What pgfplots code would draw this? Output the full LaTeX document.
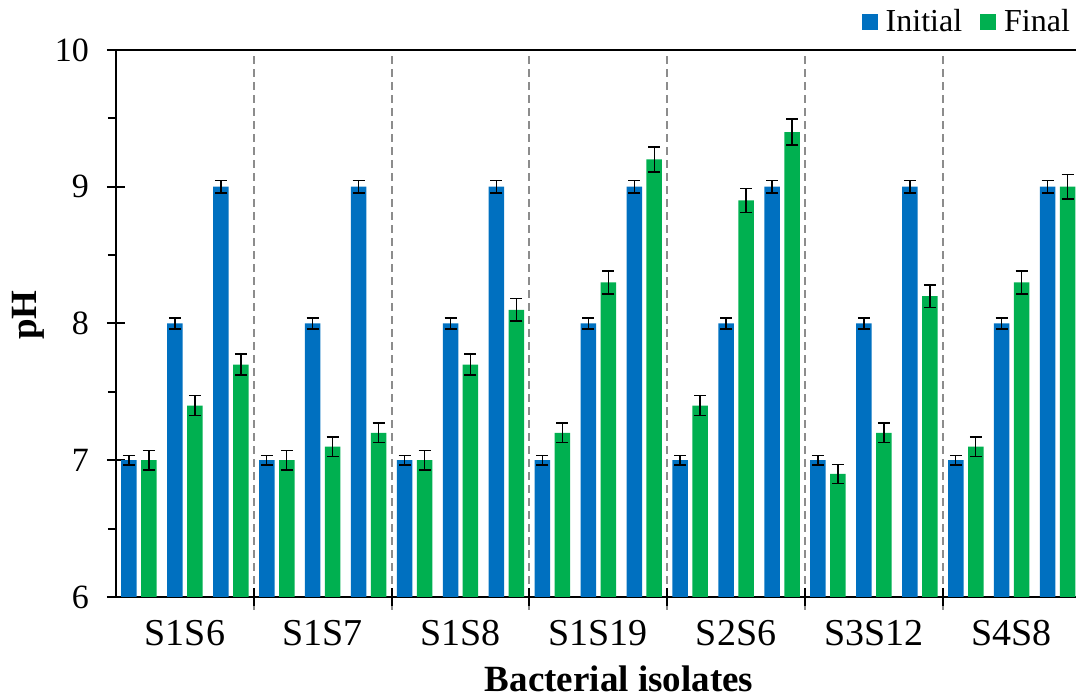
\documentclass[border=0pt]{standalone}
\usepackage{pgfplots}
\pgfplotsset{compat=1.18}
\usepackage{pgfplotstable}
\usepackage{fontspec}
\setmainfont{Liberation Serif}
\definecolor{initblue}{HTML}{0070C0}
\definecolor{finalgreen}{HTML}{00B050}
\definecolor{sepgray}{HTML}{8C8C8C}

% x positions: pair centre -/+ 0.2174 (bars of each pair)
\pgfplotstableread{
x y e
0.2826 7 0.035
1.2826 8 0.04
2.2826 9 0.045
3.2826 7 0.035
4.2826 8 0.04
5.2826 9 0.045
6.2826 7 0.035
7.2826 8 0.04
8.2826 9 0.045
9.2826 7 0.035
10.2826 8 0.04
11.2826 9 0.045
12.2826 7 0.035
13.2826 8 0.04
14.2826 9 0.045
15.2826 7 0.035
16.2826 8 0.04
17.2826 9 0.045
18.2826 7 0.035
19.2826 8 0.04
20.2826 9 0.045
}\initialdata

\pgfplotstableread{
x y e
0.7174 7.0 0.070
1.7174 7.4 0.074
2.7174 7.7 0.077
3.7174 7.0 0.070
4.7174 7.1 0.071
5.7174 7.2 0.072
6.7174 7.0 0.070
7.7174 7.7 0.077
8.7174 8.1 0.081
9.7174 7.2 0.072
10.7174 8.3 0.083
11.7174 9.2 0.092
12.7174 7.4 0.074
13.7174 8.9 0.089
14.7174 9.4 0.094
15.7174 6.9 0.069
16.7174 7.2 0.072
17.7174 8.2 0.082
18.7174 7.1 0.071
19.7174 8.3 0.083
20.7174 9.0 0.090
}\finaldata

\begin{document}
\begin{tikzpicture}
\begin{axis}[
  scale only axis,
  width=482.3pt, height=273.5pt,
  at={(58pt,51pt)}, anchor=south west,
  xmin=0, xmax=21, ymin=6, ymax=10,
  axis line style={line width=1pt},
  tick align=center,
  xtick pos=bottom, ytick pos=left,
  major tick length=9pt,
  minor tick length=4pt,
  minor y tick style={xshift=-2pt},
  tick style={black, line width=1pt},
  ytick={6,7,8,9,10},
  minor ytick={6.5,7.5,8.5,9.5},
  xtick={3,6,9,12,15,18},
  xticklabels={},
  extra x ticks={1.5,4.5,7.5,10.5,13.5,16.5,19.5},
  extra x tick labels={S1S6,S1S7,S1S8,S1S19,S2S6,S3S12,S4S8},
  extra x tick style={major tick length=0pt, xmajorgrids=false,
     xticklabel style={font=\fontsize{19}{22}\selectfont, anchor=north, yshift=-8pt}},
  xmajorgrids,
  major x grid style={sepgray, line width=1pt, dash pattern=on 4pt off 2.5pt},
  /pgf/number format/assume math mode=true,
  yticklabel style={font=\fontsize{17}{19}\selectfont, anchor=east, xshift=-5.5pt},
  ylabel={\textbf{pH}},
  ylabel style={font=\fontsize{18.5}{22}\selectfont, at={(axis description cs:-0.0829,0.5156)}, anchor=base},
  xlabel={\textbf{Bacterial isolates}},
  xlabel style={font=\fontsize{18.5}{22}\selectfont, at={(axis description cs:0.5215,-0.172)}, anchor=base},
  legend columns=2,
  legend style={draw=none, fill=none, at={(axis description cs:0.9935,1.02)}, anchor=south east,
     font=\fontsize{16}{18}\selectfont, inner sep=0pt,
     /tikz/every odd column/.append style={column sep=2pt},
     /tikz/every even column/.append style={column sep=7pt}},
  legend image code/.code={\fill[#1] (0pt,-4pt) rectangle (8pt,4pt);},
]
\addplot[ybar, bar width=7.75pt, bar shift=0pt, fill=initblue, draw=none,
  error bars/.cd, y dir=both, y explicit,
  error bar style={black, line width=0.7pt},
  error mark options={black, rotate=90, line width=0.7pt, mark size=3pt}]
  table[x=x, y=y, y error=e] {\initialdata};
\addlegendentry{Initial}
\addplot[ybar, bar width=7.75pt, bar shift=0pt, fill=finalgreen, draw=none,
  error bars/.cd, y dir=both, y explicit,
  error bar style={black, line width=0.7pt},
  error mark options={black, rotate=90, line width=0.7pt, mark size=3pt}]
  table[x=x, y=y, y error=e] {\finaldata};
\addlegendentry{Final}
\pgfplotsinvokeforeach{3,6,9,12,15,18}{
  \coordinate (b#1) at (axis cs:#1,6);
}
\end{axis}
\foreach \k in {3,6,9,12,15,18}{
  \draw[sepgray, line width=1pt] ([yshift=-4.5pt]b\k) -- ([yshift=-6.5pt]b\k);
  \draw[black, line width=1pt] ([yshift=4.5pt]b\k) -- ([yshift=-4.5pt]b\k);
}
\pgfresetboundingbox
\useasboundingbox (0,0) rectangle (538pt,349.5pt);
\end{tikzpicture}
\end{document}
